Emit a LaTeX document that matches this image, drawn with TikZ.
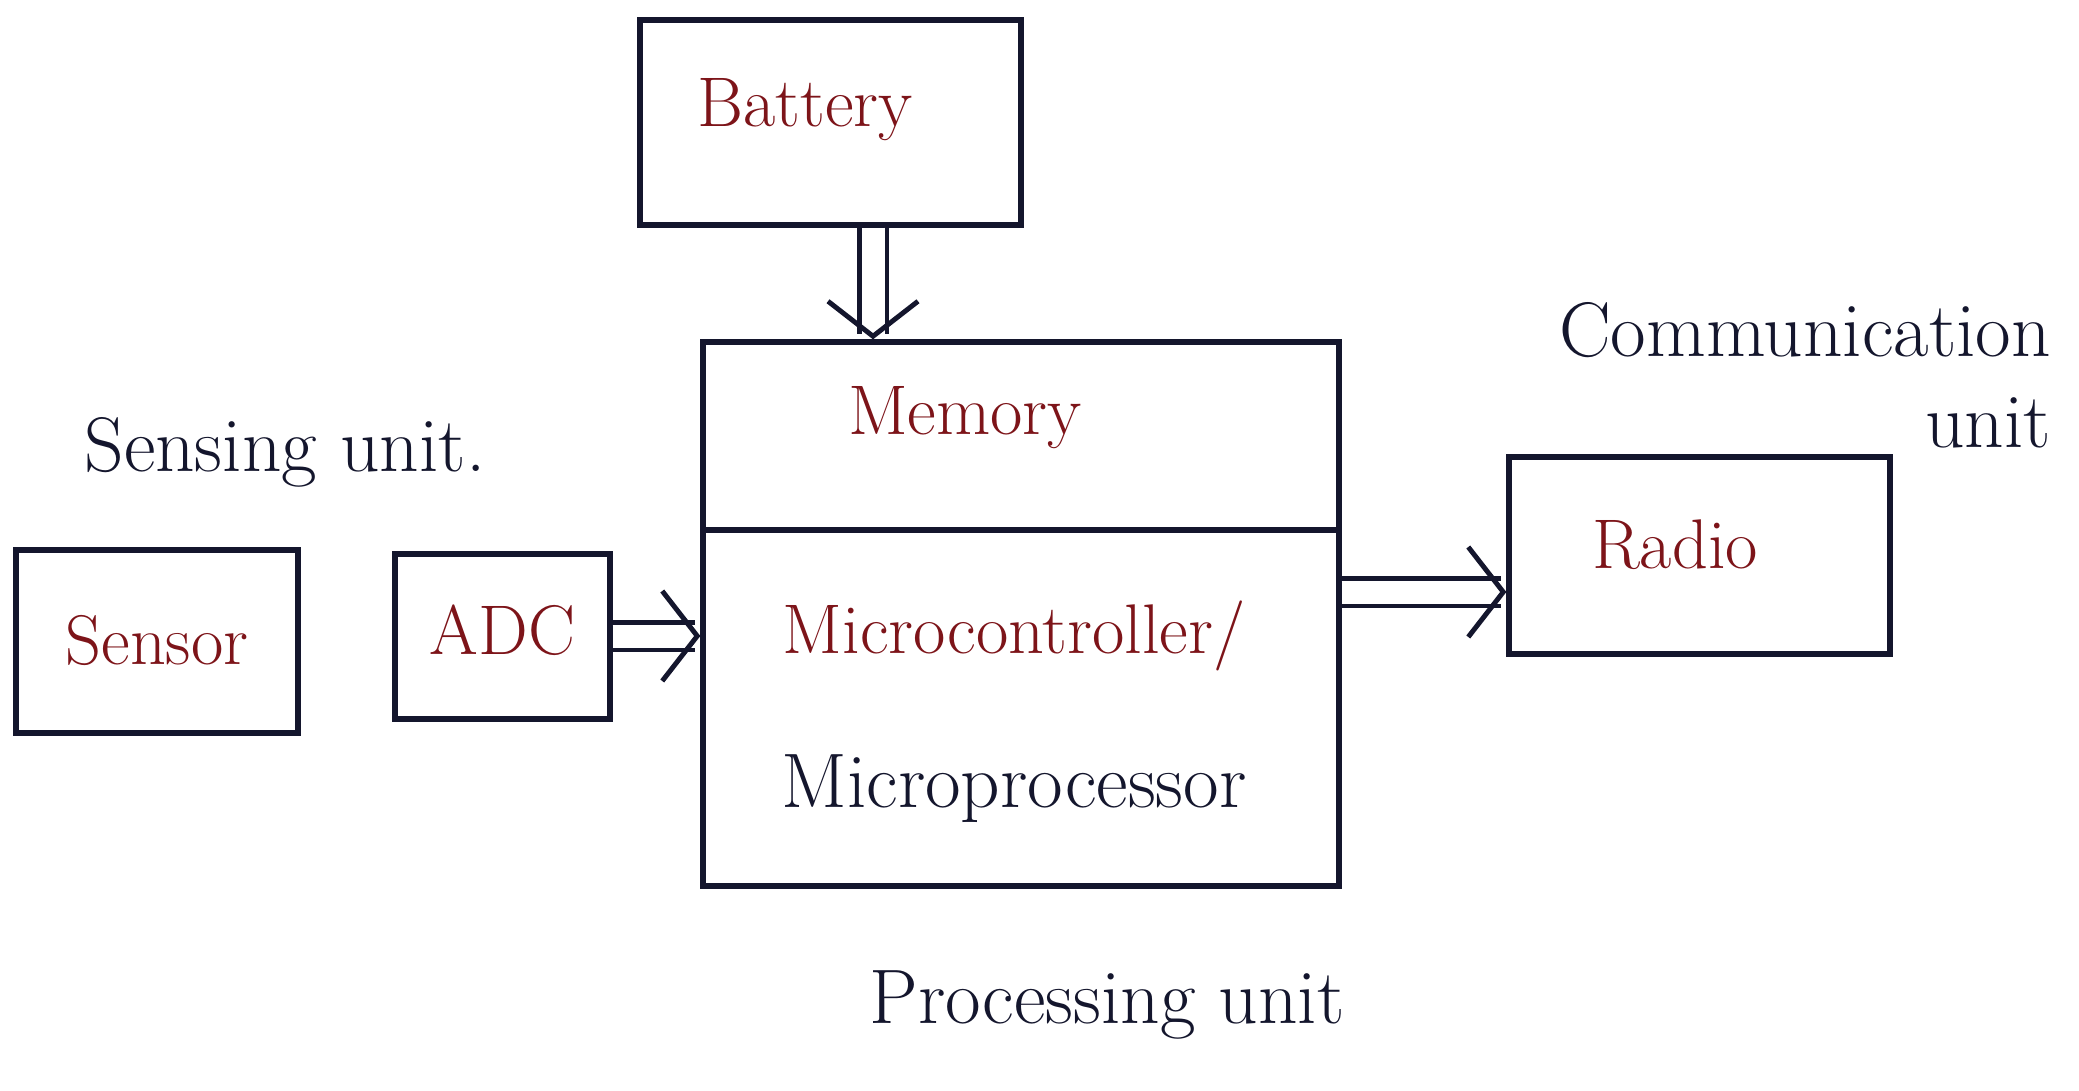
\documentclass[tikz,border=0pt]{standalone}
\usepackage{tikz}
\usetikzlibrary{arrows.meta}
\definecolor{ink}{RGB}{20,22,45}
\definecolor{redink}{RGB}{125,20,25}

\begin{document}
\begin{tikzpicture}[line width=1.5pt,draw=ink,
  box/.style={draw=ink,rectangle,inner sep=0pt},
  lbl/.style={text=redink,font=\fontsize{20}{24}\selectfont},
  note/.style={text=ink,font=\fontsize{22}{26}\selectfont},
  flow/.style={draw=ink,double,double distance=2.3mm,line width=1.4pt,-{Straight Barb[length=3.5mm,width=9mm,line width=1.4pt]}}]
\useasboundingbox (0,0) rectangle (20.79,10.9);
\node[box,minimum width=3.81cm,minimum height=2.05cm] (bat) at (8.305,9.675) {};
\node[lbl] at (8.05,9.80) {Battery};
\node[box,minimum width=6.36cm,minimum height=5.44cm] (proc) at (10.21,4.76) {};
\coordinate (divl) at (7.03,5.6);
\coordinate (divr) at (13.39,5.6);
\draw (divl) -- (divr);
\node[lbl] (mem) at (9.65,6.72) {Memory};
\node[lbl] (mcu) at (10.14,4.54) {Microcontroller/};
\node[note] (mpu) at (10.14,3.01) {Microprocessor};
\node[box,minimum width=2.82cm,minimum height=1.83cm] (sensor) at (1.57,4.485) {};
\node[lbl] at (1.57,4.50) {Sensor};
\node[box,minimum width=2.15cm,minimum height=1.65cm] (adc) at (5.025,4.535) {};
\node[lbl] at (5.025,4.60) {ADC};
\node[box,minimum width=3.81cm,minimum height=1.97cm] (radio) at (16.995,5.345) {};
\node[lbl] at (16.75,5.45) {Radio};
\node[note] (sens) at (2.85,6.38) {Sensing unit.};
\node[note,align=right] (comm) at (18.05,7.15) {Communication\\unit};
\node[note] (procu) at (11.07,0.85) {Processing unit};
% connectors
\draw[flow] (bat.south -| 8.73,0) -- (proc.north -| 8.73,0);
\draw[flow] (adc.east |- 0,4.54) -- (proc.west |- 0,4.54);
\draw[flow] (proc.east |- 0,4.98) -- (radio.west |- 0,4.98);
\end{tikzpicture}
\end{document}
